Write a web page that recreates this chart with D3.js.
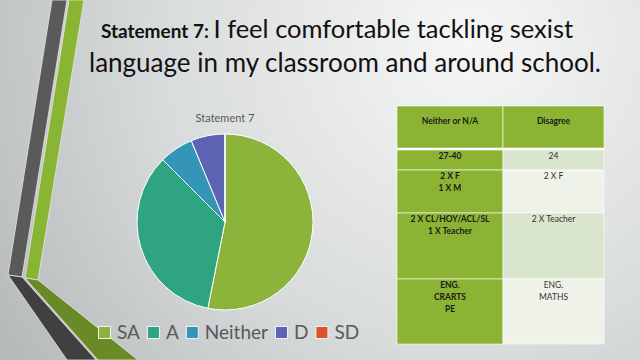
<!DOCTYPE html>
<html>
<head>
<meta charset="utf-8">
<script src="https://cdn.jsdelivr.net/npm/d3@7"></script>
<style>
  html, body { margin: 0; padding: 0; }
  svg { display: block; font-family: Lato, "Open Sans", sans-serif; }
</style>
</head>
<body>
<svg id="chart"></svg>
<script>
// pie data
const categories = ['SA', 'A', 'Neither', 'D', 'SD'];
const counts = [17, 11, 2, 2, 0];
const colors = ['#8cb43a', '#2fa481', '#3595b6', '#5f63b4', '#d9542b'];

// table data
const tableHeaders = ['Neither or N/A', 'Disagree'];
const neitherCells = [['27-40'], ['2 X F', '1 X M'], ['2 X CL/HOY/ACL/SL', '1 X Teacher'], ['ENG.', 'CRARTS', 'PE']];
const disagreeCells = [['24'], ['2 X F'], ['2 X Teacher'], ['ENG.', 'MATHS']];

const width = 640, height = 360;
const svg = d3.select('#chart').attr('width', width).attr('height', height);

// background
const defs = svg.append('defs');
const bg = defs.append('radialGradient').attr('id', 'bg')
  .attr('gradientUnits', 'userSpaceOnUse')
  .attr('cx', 470).attr('cy', 40).attr('r', 560);
bg.append('stop').attr('offset', '0%').attr('stop-color', '#f6f6f6');
bg.append('stop').attr('offset', '55%').attr('stop-color', '#d9dcdc');
bg.append('stop').attr('offset', '100%').attr('stop-color', '#b6b9ba');
svg.append('rect').attr('width', width).attr('height', height).attr('fill', 'url(#bg)');

// decorative bands on the left
const bands = [
  {pts: [[52, 0], [67, 0], [22, 277], [8, 275]], fill: '#5a5a5a'},
  {pts: [[69, 0], [84, 0], [38, 280], [25, 278]], fill: '#8ab433'},
  {pts: [[8, 275], [22, 277], [96, 360], [67, 360]], fill: '#404040'},
  {pts: [[25, 278], [38, 280], [138, 360], [98, 360]], fill: '#6a8a28'}
];
svg.append('g').selectAll('path').data(bands).join('path')
  .attr('d', d => 'M' + d.pts.join('L') + 'Z')
  .attr('fill', d => d.fill)
  .attr('stroke', '#e4e6e6').attr('stroke-width', 0.8);

// title
const title = svg.append('text')
  .attr('x', 337).attr('y', 38)
  .attr('text-anchor', 'middle')
  .attr('fill', '#111');
title.append('tspan').style('font-size', '19px').style('font-weight', 700).text('Statement 7: ');
title.append('tspan').style('font-size', '25.5px').text('I feel comfortable tackling sexist');
svg.append('text')
  .attr('x', 345).attr('y', 72)
  .attr('text-anchor', 'middle')
  .attr('fill', '#111')
  .style('font-size', '26px')
  .text('language in my classroom and around school.');

// pie
const cx = 225, cy = 222, r = 88;
const pie = d3.pie().sort(null).value(d => d.value);
const arc = d3.arc().innerRadius(0).outerRadius(r);
const pieData = categories.map((c, i) => ({name: c, value: counts[i], color: colors[i]}));

const g = svg.append('g').attr('transform', `translate(${cx},${cy})`);
g.selectAll('path').data(pie(pieData)).join('path')
  .attr('d', arc)
  .attr('fill', d => d.data.color)
  .attr('stroke', '#ffffff').attr('stroke-width', 1);

svg.append('text')
  .attr('x', cx).attr('y', 122)
  .attr('text-anchor', 'middle')
  .attr('fill', '#595959')
  .style('font-size', '11px')
  .text('Statement 7');

// legend
const legend = svg.append('g').attr('transform', 'translate(98,0)');
let lx = 0;
pieData.forEach(d => {
  legend.append('rect')
    .attr('x', lx + 0.5).attr('y', 326.5)
    .attr('width', 12).attr('height', 12)
    .attr('fill', d.color)
    .attr('stroke', '#f2f2f2').attr('stroke-width', 1);
  const t = legend.append('text')
    .attr('x', lx + 19).attr('y', 339)
    .attr('fill', '#595959')
    .style('font-size', '19px')
    .text(d.name);
  lx += 19 + t.node().getComputedTextLength() + 7;
});

// table
const tableX = 397, tableY = 106;
const colW = [106, 101];
const headerH = 42, gap = 2;
const rowH = [20, 43, 66, 65];
const rightFills = ['#d9e5cc', '#eff2e9', '#d9e5cc', '#eff2e9'];
const green = '#8cb434';

const table = svg.append('g');
// header
tableHeaders.forEach((h, i) => {
  const x = tableX + d3.sum(colW.slice(0, i));
  table.append('rect')
    .attr('x', x).attr('y', tableY)
    .attr('width', colW[i]).attr('height', headerH)
    .attr('fill', green).attr('stroke', '#ffffff').attr('stroke-width', 0.6);
  table.append('text')
    .attr('x', x + colW[i] / 2).attr('y', tableY + 18)
    .attr('text-anchor', 'middle')
    .attr('fill', '#1a1a1a')
    .style('font-size', '8.5px').style('font-weight', 700)
    .text(h);
});
svg.append('rect').attr('x', tableX).attr('y', tableY + headerH)
  .attr('width', colW[0] + colW[1]).attr('height', gap).attr('fill', '#ffffff');

let ry = tableY + headerH + gap;
neitherCells.forEach((cell, j) => {
  table.append('rect')
    .attr('x', tableX).attr('y', ry)
    .attr('width', colW[0]).attr('height', rowH[j])
    .attr('fill', green).attr('stroke', '#ffffff').attr('stroke-width', 0.6);
  table.append('rect')
    .attr('x', tableX + colW[0]).attr('y', ry)
    .attr('width', colW[1]).attr('height', rowH[j])
    .attr('fill', rightFills[j]).attr('stroke', '#ffffff').attr('stroke-width', 0.6);
  cell.forEach((line, k) => {
    table.append('text')
      .attr('x', tableX + colW[0] / 2).attr('y', ry + 9 + k * 12)
      .attr('text-anchor', 'middle')
      .attr('fill', '#1a1a1a')
      .style('font-size', '8.5px').style('font-weight', 700)
      .text(line);
  });
  disagreeCells[j].forEach((line, k) => {
    table.append('text')
      .attr('x', tableX + colW[0] + colW[1] / 2).attr('y', ry + 9 + k * 12)
      .attr('text-anchor', 'middle')
      .attr('fill', '#333333')
      .style('font-size', '8.5px')
      .text(line);
  });
  ry += rowH[j];
});
</script>
</body>
</html>
